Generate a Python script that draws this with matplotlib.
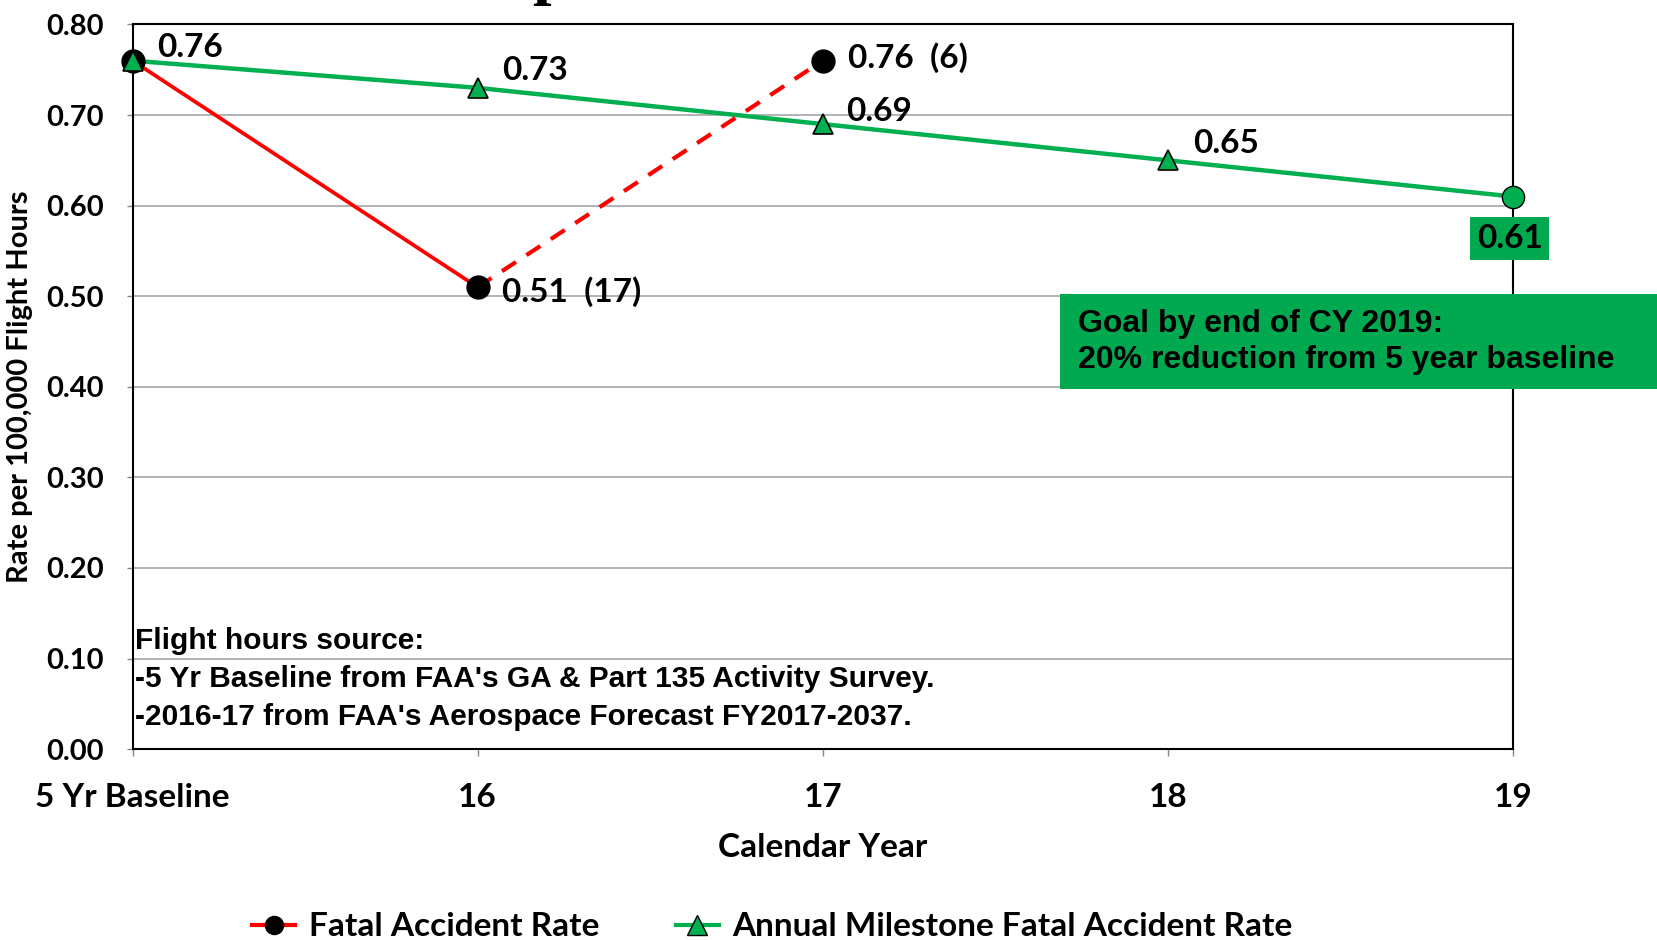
import numpy as np
import matplotlib.pyplot as plt
from matplotlib.lines import Line2D

# data
categories = ["5 Yr Baseline", "16", "17", "18", "19"]
fatal_rate = [0.76, 0.51, 0.76]          # baseline, 2016, 2017
fatal_counts = ["", "(17)", "(6)"]
milestone = [0.76, 0.73, 0.69, 0.65, 0.61]
yticks = [0.0, 0.1, 0.2, 0.3, 0.4, 0.5, 0.6, 0.7, 0.8]

GREEN = "#00B050"
BOX_GREEN = "#00A94F"
CAL = ["Lato", "DejaVu Sans"]
ARIAL = ["Liberation Sans Narrow", "Liberation Sans", "DejaVu Sans"]

fig = plt.figure(figsize=(16.57, 9.40), dpi=100)
ax = fig.add_axes([0.080, 0.203, 0.833, 0.771])
x = np.arange(len(categories))

ax.set_xlim(0, 4)
ax.set_ylim(0, 0.8)
ax.set_yticks(yticks)
ax.set_yticklabels([f"{v:.2f}" for v in yticks], fontfamily=CAL, fontweight="bold", fontsize=21)
ax.set_xticks(x)
ax.set_xticklabels(categories, fontfamily=CAL, fontweight="bold", fontsize=24)
ax.tick_params(axis="y", length=4, width=1, color="#888888", pad=17)
ax.tick_params(axis="x", length=5, width=1, color="#888888", pad=19)
ax.grid(axis="y", color="#a6a6a6", lw=1.2)
ax.set_axisbelow(True)
for s in ax.spines.values():
    s.set_color("black")
    s.set_linewidth(1.5)

# milestone line
ax.plot(x, milestone, color=GREEN, lw=3.2, zorder=3, clip_on=False)
ax.plot(x[:-1], milestone[:-1], ls="none", marker="^", ms=15, mfc=GREEN, mec="black",
        mew=1.2, zorder=5, clip_on=False)
ax.plot(x[-1:], milestone[-1:], ls="none", marker="o", ms=16, mfc=GREEN, mec="black",
        mew=1.0, zorder=5, clip_on=False)

# fatal accident rate
ax.plot(x[:2], fatal_rate[:2], color="red", lw=2.7, zorder=4)
ax.plot(x[1:3], fatal_rate[1:3], color="red", lw=3, ls=(0, (4, 3)), zorder=4)
ax.plot(x[:3], fatal_rate, ls="none", marker="o", ms=16.5, mfc="black", mec="black",
        zorder=4, clip_on=False)

lab = dict(textcoords="offset pixels", fontfamily=CAL, fontweight="bold", fontsize=24,
           ha="left", va="center", zorder=6)
ax.annotate("0.76", (x[0], milestone[0]), xytext=(25, 13), **lab)
ax.annotate("0.73", (x[1], milestone[1]), xytext=(24, 17), **lab)
ax.annotate("0.69", (x[2], milestone[2]), xytext=(23, 13), **lab)
ax.annotate("0.65", (x[3], milestone[3]), xytext=(25, 17), **lab)
ax.annotate(f"{fatal_rate[1]:.2f}  {fatal_counts[1]}", (x[1], fatal_rate[1]), xytext=(24, -4), **lab)
ax.annotate(f"{fatal_rate[2]:.2f}  {fatal_counts[2]}", (x[2], fatal_rate[2]), xytext=(25, 3), **lab)
ax.annotate(f"{milestone[4]:.2f}", (x[4], milestone[4]), xytext=(-3, -42),
            textcoords="offset pixels", fontfamily=CAL, fontweight="bold", fontsize=24,
            ha="center", va="center", zorder=6, annotation_clip=False,
            bbox=dict(boxstyle="square,pad=0.2", fc=BOX_GREEN, ec="none"))

ax.set_ylabel("Rate per 100,000 Flight Hours", fontfamily=CAL, fontweight="bold", fontsize=21)
ax.yaxis.set_label_coords(-0.072, 0.5)
ax.set_xlabel("Calendar Year", fontfamily=CAL, fontweight="bold", fontsize=24)
ax.xaxis.set_label_coords(0.5, -0.115)

# notes
ax.text(0.002, 0.097, "Flight hours source:\n-5 Yr Baseline from FAA's GA & Part 135 Activity Survey.\n"
        "-2016-17 from FAA's Aerospace Forecast FY2017-2037.",
        transform=ax.transAxes, fontfamily=ARIAL, fontweight="bold", fontsize=21.5,
        va="center", ha="left", linespacing=1.44)

# goal box
fig.patches.append(plt.Rectangle((1060 / 1657, 1 - 389 / 940), 600 / 1657, 95 / 940,
                                 transform=fig.transFigure, fc=BOX_GREEN, ec="none", zorder=10))
fig.text(1078 / 1657, 1 - 342 / 940, "Goal by end of CY 2019:\n20% reduction from 5 year baseline",
         fontfamily=ARIAL, fontweight="bold", fontsize=23, va="center", ha="left",
         linespacing=1.3, zorder=11)

# remnant of the cropped title (only the descender shows)
fig.text(551 / 1657, 1.009, "p", fontfamily=["Liberation Serif"], fontweight="bold",
         fontsize=48, ha="center", va="baseline")

handles = [Line2D([], [], color="red", lw=3, marker="o", ms=13, mfc="black", mec="black"),
           Line2D([], [], color=GREEN, lw=3, marker="^", ms=14, mfc=GREEN, mec="black")]
fig.legend(handles, ["Fatal Accident Rate", "Annual Milestone Fatal Accident Rate"],
           loc="center", bbox_to_anchor=(0.466, 0.014), ncol=2, frameon=False,
           prop={"family": CAL, "weight": "bold", "size": 24},
           handlelength=1.3, handletextpad=0.4, columnspacing=2.3)

fig.savefig("out.png", dpi=100)
